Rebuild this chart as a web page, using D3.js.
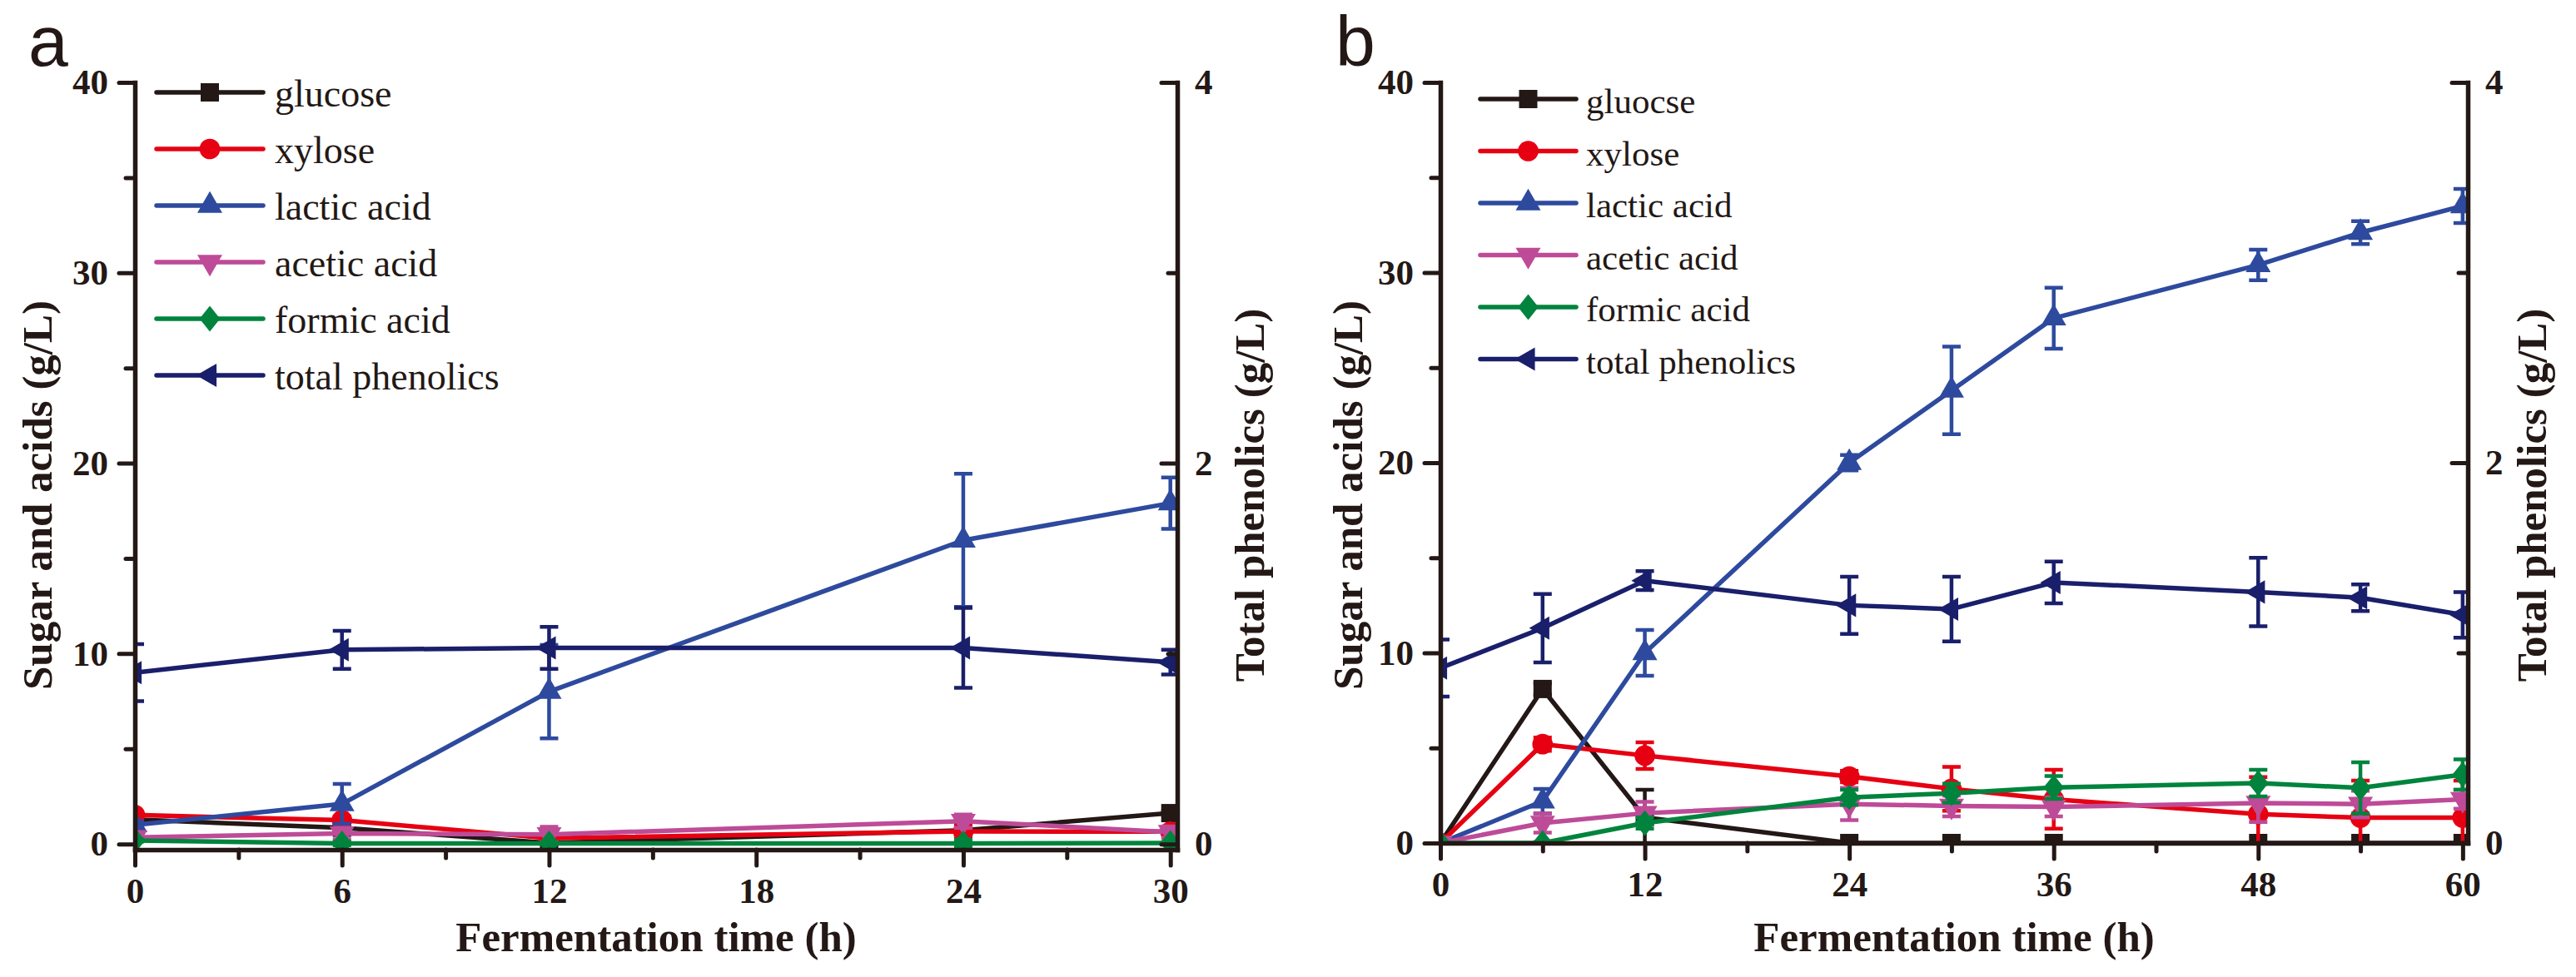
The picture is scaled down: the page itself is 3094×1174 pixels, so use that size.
<!DOCTYPE html>
<html>
<head>
<meta charset="utf-8">
<script src="https://cdn.jsdelivr.net/npm/d3@7"></script>
<style>
  body { margin: 0; background: #fff; }
  svg text { font-family: "Liberation Serif", "Times New Roman", serif; fill: #231815; }
</style>
</head>
<body>
<svg width="3094" height="1174"></svg>
<script>
// ---- panel a data (g/L), phenolics on right axis ----
const timeA = [0, 6, 12, 24, 30];
const glucoseA = [1.28, 0.85, 0.05, 0.72, 1.62];
const glucoseErrA = [0.1, 0.15, 0.05, 0.65, 0.1];
const xyloseA = [1.52, 1.25, 0.3, 0.66, 0.65];
const xyloseErrA = [0.1, 0.2, 0.1, 0.3, 0.1];
const lacticA = [1.0, 2.1, 8.0, 15.95, 17.9];
const lacticErrA = [0.2, 1.05, 2.45, 3.5, 1.35];
const aceticA = [0.35, 0.55, 0.5, 1.2, 0.62];
const aceticErrA = [0.05, 0.3, 0.4, 0.35, 0.3];
const formicA = [0.18, 0.03, 0.03, 0.03, 0.05];
const formicErrA = [0.05, 0.1, 0.05, 0.2, 0.05];
const phenolicsA = [0.90, 1.02, 1.03, 1.03, 0.955];
const phenolicsErrA = [0.15, 0.1, 0.11, 0.21, 0.065];

// ---- panel b data ----
const timeB = [0, 6, 12, 24, 30, 36, 48, 54, 60];
const glucoseB = [0, 8.1, 1.35, 0, 0, 0, 0, 0, 0];
const glucoseErrB = [0, 0.3, 1.45, 0, 0, 0, 0, 0, 0];
const xyloseB = [0, 5.2, 4.6, 3.5, 2.85, 2.3, 1.52, 1.33, 1.33];
const xyloseErrB = [0, 0.35, 0.7, 0.3, 1.15, 1.55, 1.95, 1.95, 1.95];
const lacticB = [0, 2.2, 10.0, 20.0, 23.8, 27.6, 30.4, 32.1, 33.5];
const lacticErrB = [0, 0.65, 1.2, 0.4, 2.3, 1.6, 0.8, 0.6, 0.9];
const aceticB = [0, 1.05, 1.57, 2.05, 1.95, 1.9, 2.1, 2.05, 2.3];
const aceticErrB = [0, 0.5, 0.6, 0.85, 0.55, 0.5, 1.0, 0.7, 0.5];
const formicB = [0, 0, 1.05, 2.4, 2.62, 2.92, 3.15, 2.9, 3.6];
const formicErrB = [0, 0.05, 0.3, 0.4, 0.5, 0.6, 0.7, 1.35, 0.8];
const phenolicsB = [0.92, 1.13, 1.38, 1.25, 1.23, 1.37, 1.32, 1.29, 1.20];
const phenolicsErrB = [0.15, 0.18, 0.05, 0.15, 0.17, 0.11, 0.18, 0.07, 0.12];

// ---- labels and ticks ----
const legendA = ["glucose", "xylose", "lactic acid", "acetic acid", "formic acid", "total phenolics"];
const legendB = ["gluocse", "xylose", "lactic acid", "acetic acid", "formic acid", "total phenolics"];
const xTicksA = [0, 6, 12, 18, 24, 30];
const xMinorA = [3, 9, 15, 21, 27];
const xTicksB = [0, 12, 24, 36, 48, 60];
const xMinorB = [6, 18, 30, 42, 54];
const yTicks = [0, 10, 20, 30, 40];
const yMinor = [5, 15, 25, 35];
const yRTicks = [0, 2, 4];
const yRMinor = [1, 3];

const ink = "#231815";
const colors = ["#231815", "#e60012", "#2e4a9e", "#be4b98", "#00843d", "#1a1f6b"];

// origin style diamond (a bit taller than wide)
const diamond = {
  draw(ctx, size) {
    const h = Math.sqrt(size) * 0.7, w = h * 0.8;
    ctx.moveTo(0, -h); ctx.lineTo(w, 0); ctx.lineTo(0, h); ctx.lineTo(-w, 0); ctx.closePath();
  }
};
const markers = [
  {type: d3.symbolSquare, size: 484, rot: 0},
  {type: d3.symbolCircle, size: 480, rot: 0},
  {type: d3.symbolTriangle, size: 390, rot: 0},
  {type: d3.symbolTriangle, size: 390, rot: 180},
  {type: diamond, size: 484, rot: 0},
  {type: d3.symbolTriangle, size: 340, rot: -90}
];

const svg = d3.select("svg");

function drawPanel(p) {
  const g = svg.append("g");
  const x = d3.scaleLinear().domain(p.xDomain).range([p.left, p.right]);
  const y = d3.scaleLinear().domain(p.yDomain).range([p.bottom, p.top]);
  const yR = d3.scaleLinear().domain(p.yDomain.map(v => v / 10)).range([p.bottom, p.top]);

  g.append("defs").append("clipPath").attr("id", p.id)
    .append("rect")
      .attr("x", p.left).attr("y", p.top)
      .attr("width", p.right - p.left).attr("height", p.bottom - p.top);

  const plot = g.append("g").attr("clip-path", `url(#${p.id})`);

  p.series.forEach((s, k) => {
    const sc = k === 5 ? yR : y;
    const col = colors[k];
    const pts = p.time.map((t, i) => ({t: t, v: s.values[i], e: s.errors[i]}));
    // error bars
    plot.append("g")
      .selectAll("path")
      .data(pts.filter(d => d.e > 0))
      .join("path")
        .attr("d", d => {
          const cx = x(d.t), y1 = sc(d.v + d.e), y2 = sc(d.v - d.e);
          return `M${cx},${y1}V${y2}M${cx - 11},${y1}H${cx + 11}M${cx - 11},${y2}H${cx + 11}`;
        })
        .attr("fill", "none")
        .attr("stroke", col)
        .attr("stroke-width", 4.5);
    // line
    plot.append("path")
      .datum(pts)
      .attr("d", d3.line().x(d => x(d.t)).y(d => sc(d.v)))
      .attr("fill", "none")
      .attr("stroke", col)
      .attr("stroke-width", 5.5)
      .attr("stroke-linejoin", "round");
    // markers
    const m = markers[k];
    plot.append("g")
      .selectAll("path")
      .data(pts)
      .join("path")
        .attr("d", d3.symbol().type(m.type).size(m.size))
        .attr("transform", d => `translate(${x(d.t)},${sc(d.v)}) rotate(${m.rot})`)
        .attr("fill", col);
  });

  // axes
  const styleAxis = (sel, keepDomain) => {
    sel.selectAll(".tick line").attr("stroke", ink).attr("stroke-width", 5).attr("stroke-linecap", "round");
    sel.selectAll(".tick text")
      .attr("font-family", "Liberation Serif, Times New Roman, serif")
      .attr("font-weight", "bold")
      .attr("font-size", 43)
      .attr("fill", ink);
    if (keepDomain) {
      sel.select(".domain").attr("stroke", ink).attr("stroke-width", 5.5).attr("stroke-linecap", "square");
    } else {
      sel.select(".domain").remove();
    }
  };

  const fmt = d3.format("d");
  g.append("g").attr("transform", `translate(0,${p.bottom})`)
    .call(d3.axisBottom(x).tickValues(p.xMinor).tickSize(10).tickFormat(() => ""))
    .call(s => styleAxis(s, false));
  g.append("g").attr("transform", `translate(${p.left},0)`)
    .call(d3.axisLeft(y).tickValues(yMinor).tickSize(11).tickFormat(() => ""))
    .call(s => styleAxis(s, false));
  g.append("g").attr("transform", `translate(${p.right},0)`)
    .call(d3.axisRight(yR).tickValues(yRMinor).tickSize(-11).tickFormat(() => ""))
    .call(s => styleAxis(s, false));

  g.append("g").attr("transform", `translate(0,${p.bottom})`)
    .call(d3.axisBottom(x).tickValues(p.xTicks).tickSize(19).tickSizeOuter(0).tickPadding(14).tickFormat(fmt))
    .call(s => styleAxis(s, true));
  g.append("g").attr("transform", `translate(${p.left},0)`)
    .call(d3.axisLeft(y).tickValues(yTicks).tickSize(19).tickSizeOuter(0).tickPadding(13).tickFormat(fmt))
    .call(s => styleAxis(s, true));
  g.append("g").attr("transform", `translate(${p.right},0)`)
    .call(d3.axisRight(yR).tickValues(yRTicks).tickSize(-19).tickSizeOuter(0).tickPadding(21).tickFormat(fmt))
    .call(s => styleAxis(s, true));

  // axis titles
  g.append("text")
    .attr("x", (p.left + p.right) / 2).attr("y", 1143)
    .attr("text-anchor", "middle")
    .attr("font-weight", "bold").attr("font-size", 51)
    .text("Fermentation time (h)");
  g.append("text")
    .attr("transform", `translate(${p.leftTitleX},595) rotate(-90)`)
    .attr("text-anchor", "middle")
    .attr("font-weight", "bold").attr("font-size", 51)
    .text("Sugar and acids (g/L)");
  g.append("text")
    .attr("transform", `translate(${p.rightTitleX},595) rotate(-90)`)
    .attr("text-anchor", "middle")
    .attr("font-weight", "bold").attr("font-size", 51)
    .text("Total phenolics (g/L)");

  // panel letter
  g.append("text")
    .attr("x", p.letterX).attr("y", p.letterY)
    .style("font-family", "'Liberation Sans', Arial, sans-serif")
    .attr("font-size", 86)
    .text(p.letter);

  // legend
  const lg = g.append("g");
  p.legend.forEach((name, k) => {
    const ly = p.legY + k * p.legStep;
    lg.append("line")
      .attr("x1", p.legX1).attr("x2", p.legX2).attr("y1", ly).attr("y2", ly)
      .attr("stroke", colors[k]).attr("stroke-width", 5.5).attr("stroke-linecap", "round");
    const m = markers[k];
    lg.append("path")
      .attr("d", d3.symbol().type(m.type).size(m.size)())
      .attr("transform", `translate(${(p.legX1 + p.legX2) / 2},${ly}) rotate(${m.rot})`)
      .attr("fill", colors[k]);
    lg.append("text")
      .attr("x", p.legTextX).attr("y", ly + 17)
      .attr("font-size", p.legFont)
      .text(name);
  });
}

drawPanel({
  id: "clipA", letter: "a", letterX: 34, letterY: 79,
  left: 162, right: 1414, top: 99, bottom: 1021,
  xDomain: [0, 30.2], yDomain: [-0.3, 40],
  xTicks: xTicksA, xMinor: xMinorA,
  leftTitleX: 62, rightTitleX: 1518,
  legend: legendA, legX1: 188, legX2: 316, legTextX: 330, legY: 111, legStep: 68, legFont: 46,
  time: timeA,
  series: [
    {values: glucoseA, errors: glucoseErrA},
    {values: xyloseA, errors: xyloseErrA},
    {values: lacticA, errors: lacticErrA},
    {values: aceticA, errors: aceticErrA},
    {values: formicA, errors: formicErrA},
    {values: phenolicsA, errors: phenolicsErrA}
  ]
});

drawPanel({
  id: "clipB", letter: "b", letterX: 1604, letterY: 79,
  left: 1730, right: 2964, top: 99, bottom: 1013,
  xDomain: [0, 60.3], yDomain: [0, 40],
  xTicks: xTicksB, xMinor: xMinorB,
  leftTitleX: 1636, rightTitleX: 3058,
  legend: legendB, legX1: 1778, legX2: 1893, legTextX: 1905, legY: 119, legStep: 62.5, legFont: 43,
  time: timeB,
  series: [
    {values: glucoseB, errors: glucoseErrB},
    {values: xyloseB, errors: xyloseErrB},
    {values: lacticB, errors: lacticErrB},
    {values: aceticB, errors: aceticErrB},
    {values: formicB, errors: formicErrB},
    {values: phenolicsB, errors: phenolicsErrB}
  ]
});
</script>
</body>
</html>
